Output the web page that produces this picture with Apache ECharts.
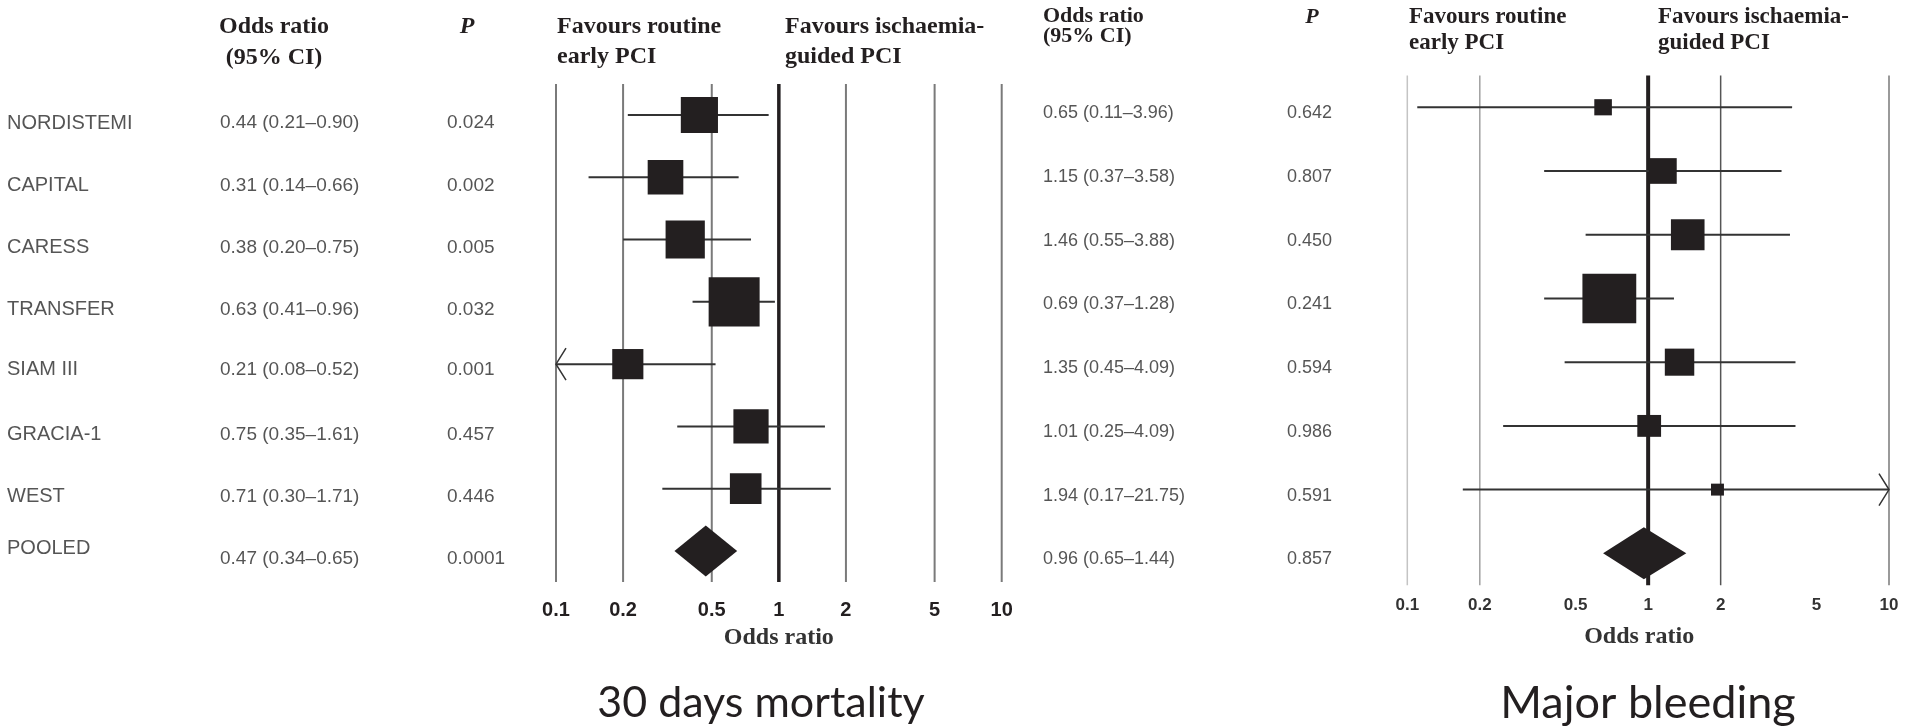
<!DOCTYPE html>
<html>
<head>
<meta charset="utf-8">
<title>Forest plots</title>
<script src="https://cdn.jsdelivr.net/npm/echarts@6.0.0/dist/echarts.min.js"></script>
<style>
  html, body { margin: 0; padding: 0; background: #fff; }
  #chart { width: 1907px; height: 728px; }
</style>
</head>
<body>
<div id="chart"></div>
<script>
// rows, top to bottom
const studies = ['NORDISTEMI', 'CAPITAL', 'CARESS', 'TRANSFER', 'SIAM III', 'GRACIA-1', 'WEST', 'POOLED'];

// 30 days mortality
const mortOR = [0.44, 0.31, 0.38, 0.63, 0.21, 0.75, 0.71, 0.47];
const mortLo = [0.21, 0.14, 0.20, 0.41, 0.08, 0.35, 0.30, 0.34];
const mortHi = [0.90, 0.66, 0.75, 0.96, 0.52, 1.61, 1.71, 0.65];
const mortP = ['0.024', '0.002', '0.005', '0.032', '0.001', '0.457', '0.446', '0.0001'];
const mortWeight = [13.8, 12.7, 15.4, 26.0, 9.7, 12.4, 10.0];

// major bleeding
const bleedOR = [0.65, 1.15, 1.46, 0.69, 1.35, 1.01, 1.94, 0.96];
const bleedLo = [0.11, 0.37, 0.55, 0.37, 0.45, 0.25, 0.17, 0.65];
const bleedHi = [3.96, 3.58, 3.88, 1.28, 4.09, 4.09, 21.75, 1.44];
const bleedP = ['0.642', '0.807', '0.450', '0.241', '0.594', '0.986', '0.591', '0.857'];
const bleedWeight = [4.6, 11.6, 16.8, 43.1, 12.9, 8.4, 2.5];

const tickValues = [0.1, 0.2, 0.5, 1, 2, 5, 10];
const bleedGridValues = [0.1, 0.2, 1, 2, 10]; // right panel has no line at 0.5 and 5

const ink = '#231f20';
const serif = 'Liberation Serif';
const sans = 'Liberation Sans';
const chart = echarts.init(document.getElementById('chart'));

function orText(e, l, h) {
  return e.toFixed(2) + ' (' + l.toFixed(2) + '\u2013' + h.toFixed(2) + ')';
}

// vertical reference lines across the whole plot height
function gridLineSeries(g, values, styleOf) {
  return {
    type: 'custom', xAxisIndex: g, yAxisIndex: g, z: 1, silent: true,
    data: values.map(v => [v, 0]),
    encode: { x: 0, y: 1 },
    renderItem: (params, api) => {
      const cs = params.coordSys;
      const v = api.value(0);
      const x = api.coord([v, 0])[0];
      const s = styleOf(v);
      return { type: 'line', shape: { x1: x, y1: cs.y, x2: x, y2: cs.y + cs.height }, style: { stroke: s[0], lineWidth: s[1] } };
    }
  };
}

// CI whiskers, clipped to the axis with an open arrow when beyond
function ciSeries(g, lo, hi) {
  return {
    type: 'custom', xAxisIndex: g, yAxisIndex: g, z: 2, silent: true,
    data: lo.slice(0, 7).map((l, i) => [l, hi[i], i]),
    encode: { x: [0, 1], y: 2 },
    renderItem: (params, api) => {
      const row = api.value(2), l = api.value(0), h = api.value(1);
      const p0 = api.coord([Math.max(l, 0.1), row]);
      const p1 = api.coord([Math.min(h, 10), row]);
      const kids = [{ type: 'line', shape: { x1: p0[0], y1: p0[1], x2: p1[0], y2: p1[1] }, style: { stroke: '#333', lineWidth: 2 } }];
      if (l < 0.1) kids.push({ type: 'polyline', shape: { points: [[p0[0] + 10, p0[1] - 16], p0, [p0[0] + 10, p0[1] + 16]] }, style: { stroke: '#333', lineWidth: 1.5, fill: null } });
      if (h > 10) kids.push({ type: 'polyline', shape: { points: [[p1[0] - 10, p1[1] - 16], p1, [p1[0] - 10, p1[1] + 16]] }, style: { stroke: '#333', lineWidth: 1.5, fill: null } });
      return { type: 'group', children: kids };
    }
  };
}

function boxSeries(g, or, w, k, ratio) {
  return {
    type: 'scatter', xAxisIndex: g, yAxisIndex: g, z: 3, silent: true,
    symbol: 'rect',
    data: or.slice(0, 7).map((v, i) => [v, i]),
    symbolSize: (val, p) => { const s = k * Math.sqrt(w[p.dataIndex]); return [s, s * ratio]; },
    itemStyle: { color: ink, opacity: 1 }
  };
}

function diamondSeries(g, or, lo, hi, h) {
  return {
    type: 'custom', xAxisIndex: g, yAxisIndex: g, z: 3, silent: true,
    data: [[lo[7], or[7], hi[7], 7]],
    encode: { x: [0, 1, 2], y: 3 },
    renderItem: (params, api) => {
      const r = api.value(3);
      const a = api.coord([api.value(0), r]);
      const c = api.coord([api.value(1), r]);
      const b = api.coord([api.value(2), r]);
      return { type: 'polygon', shape: { points: [a, [c[0], c[1] - h / 2], b, [c[0], c[1] + h / 2]] }, style: { fill: ink } };
    }
  };
}

function tableSeries(g, cols) {
  const data = [];
  cols.forEach(c => {
    c.texts.forEach((t, i) => {
      data.push({
        value: [c.x, i],
        label: { formatter: t, fontSize: c.size, offset: (c.offsets && c.offsets[i]) || [0, 0] }
      });
    });
  });
  return {
    type: 'scatter', xAxisIndex: g, yAxisIndex: g, silent: true, symbolSize: 0,
    itemStyle: { color: 'transparent' },
    label: { show: true, position: 'right', distance: 0, color: '#2b2b2b', fontFamily: sans },
    data
  };
}

function logAxis(g, size, margin, color, nameGap, namePad) {
  return {
    type: 'log', logBase: 10, gridIndex: g, min: 0.1, max: 10,
    axisLine: { show: false }, axisTick: { show: false }, splitLine: { show: false },
    axisLabel: {
      customValues: tickValues, margin, color, fontFamily: sans, fontWeight: 'bold', fontSize: size,
      formatter: v => String(+(+v).toPrecision(3))
    },
    name: 'Odds ratio', nameLocation: 'middle', nameGap,
    nameTextStyle: { fontFamily: serif, fontWeight: 'bold', fontSize: 24, color: '#333', padding: namePad }
  };
}

function hiddenCat(g) {
  return { type: 'category', gridIndex: g, data: studies, inverse: true, show: false };
}

const mortLineStyle = v => v === 1 ? [ink, 3.5] : ['#7a7a7a', 2];
const bleedLineStyle = v => ({ 0.1: ['#c4c4c4', 1.5], 0.2: ['#a0a0a0', 1.5], 1: [ink, 4], 2: ['#555', 1.5], 10: ['#9a9a9a', 2] })[v];

const headerFont = (s, it) => 'bold ' + (it ? 'italic ' : '') + s + 'px "' + serif + '"';
const txt = (x, y, text, font, align, lh) => ({
  type: 'text', x, y, silent: true,
  style: { text, font, fill: ink, textAlign: align, textVerticalAlign: 'middle', lineHeight: lh }
});

const option = {
  animation: false,
  grid: [
    { left: 556, top: 83.9, width: 445.7, height: 498.2 },
    { left: 1407.3, top: 75.4, width: 481.7, height: 509.8 },
    { left: 0, top: 91.9, width: 1907, height: 498.2 },
    { left: 0, top: 81.4, width: 1907, height: 509.8 }
  ],
  xAxis: [
    logAxis(0, 20, 18, ink, 44, [0, 0, 0, 0]),
    logAxis(1, 17, 11.5, '#333', 39.5, [0, 18, 0, 0]),
    { type: 'value', gridIndex: 2, min: 0, max: 1907, show: false },
    { type: 'value', gridIndex: 3, min: 0, max: 1907, show: false }
  ],
  yAxis: [hiddenCat(0), hiddenCat(1), hiddenCat(2), hiddenCat(3)],
  series: [
    gridLineSeries(0, tickValues, mortLineStyle),
    ciSeries(0, mortLo, mortHi),
    boxSeries(0, mortOR, mortWeight, 10.0, 0.97),
    diamondSeries(0, mortOR, mortLo, mortHi, 51),
    gridLineSeries(1, bleedGridValues, bleedLineStyle),
    ciSeries(1, bleedLo, bleedHi),
    boxSeries(1, bleedOR, bleedWeight, 8.2, 0.92),
    diamondSeries(1, bleedOR, bleedLo, bleedHi, 52),
    tableSeries(2, [
      { x: 7, size: 20, texts: studies, offsets: studies.map((s, i) => i === 7 ? [0, -10.5] : (i === 4 ? [0, -2.5] : [0, 0])) },
      { x: 220, size: 19, texts: mortOR.map((v, i) => orText(v, mortLo[i], mortHi[i])), offsets: mortOR.map((v, i) => i === 4 ? [0, -2.5] : [0, 0]) },
      { x: 447, size: 19, texts: mortP, offsets: mortP.map((v, i) => i === 4 ? [0, -2.5] : [0, 0]) }
    ]),
    tableSeries(3, [
      { x: 1043, size: 18, texts: bleedOR.map((v, i) => orText(v, bleedLo[i], bleedHi[i])) },
      { x: 1287, size: 18, texts: bleedP }
    ])
  ],
  graphic: [
    txt(274, 42, 'Odds ratio\n(95% CI)', headerFont(24), 'center', 31),
    txt(467, 27, 'P', headerFont(24, true), 'center', 24),
    txt(557, 42, 'Favours routine\nearly PCI', headerFont(24), 'left', 30),
    txt(785, 42, 'Favours ischaemia-\nguided PCI', headerFont(24), 'left', 30),
    txt(1043, 26.5, 'Odds ratio\n(95% CI)', headerFont(22), 'left', 20),
    txt(1312, 17, 'P', headerFont(22, true), 'center', 22),
    txt(1409, 29.7, 'Favours routine\nearly PCI', headerFont(23), 'left', 26),
    txt(1658, 29.7, 'Favours ischaemia-\nguided PCI', headerFont(23), 'left', 26),
    txt(761, 703, '30 days mortality', '43px Lato', 'center', 46),
    txt(1648, 703, 'Major bleeding', '45px Lato', 'center', 48)
  ]
};

chart.setOption(option);
window.addEventListener('resize', () => chart.resize());
</script>
</body>
</html>
